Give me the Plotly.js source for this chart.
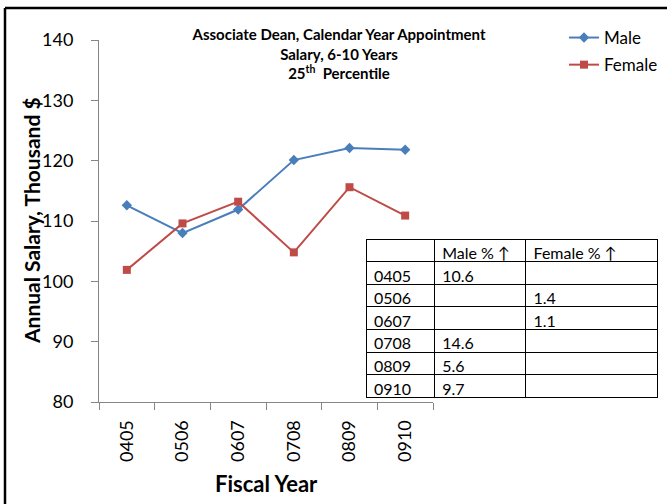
<!DOCTYPE html>
<html>
<head>
<meta charset="utf-8">
<script src="https://cdn.plot.ly/plotly-3.0.1.min.js"></script>
<style>html,body{margin:0;padding:0;background:#fff;}#chart{width:667px;height:504px;}</style>
</head>
<body>
<div id="chart"></div>
<script>
var years = ["0405", "0506", "0607", "0708", "0809", "0910"];
var male = [112.6, 108.0, 111.9, 120.1, 122.1, 121.8];
var female = [101.9, 109.6, 113.2, 104.8, 115.6, 110.9];
var tableHeader = ["", "Male\u00a0%\u00a0\u2191", "Female\u00a0%\u00a0\u2191"];
var maleIncrease = ["10.6", "", "", "14.6", "5.6", "9.7"];
var femaleIncrease = ["", "1.4", "1.1", "", "", ""];
var yTicks = [80, 90, 100, 110, 120, 130, 140];

var W = 667, H = 504;
function px(x) { return x / W; }
function py(y) { return 1 - y / H; }

var FONT = "Lato, 'Open Sans', sans-serif";
var AX = "#868686";

var traces = [
  {
    type: "scatter", mode: "lines+markers", name: "Male",
    x: years, y: male,
    line: {color: "#4A7EBB", width: 2},
    marker: {symbol: "diamond", size: 8, color: "#4A7EBB"},
    legendgroup: "m"
  },
  {
    type: "scatter", mode: "lines+markers", name: "Female",
    x: years, y: female,
    line: {color: "#BE4B48", width: 2},
    marker: {symbol: "square", size: 8, color: "#BE4B48"},
    legendgroup: "f"
  },
  {
    type: "table",
    domain: {x: [px(366), px(657)], y: [py(398), py(239)]},
    columnwidth: [68, 91, 131],
    header: {
      values: tableHeader,
      align: "left",
      height: 22.6,
      line: {color: "#000", width: 1},
      fill: {color: "#fff"},
      font: {family: FONT, size: 16, color: "#000"}
    },
    cells: {
      values: [years, maleIncrease, femaleIncrease],
      align: "left",
      height: 22.6,
      line: {color: "#000", width: 1},
      fill: {color: "#fff"},
      font: {family: FONT, size: 16, color: "#000"}
    }
  }
];

var layout = {
  width: W, height: H,
  margin: {l: 0, r: 0, t: 0, b: 0},
  paper_bgcolor: "#fff", plot_bgcolor: "rgba(0,0,0,0)",
  font: {family: FONT, color: "#000"},
  showlegend: true,
  title: {
    text: "<b>Associate Dean, Calendar Year Appointment<br>Salary, 6-10 Years<br>25<sup>th</sup>  Percentile</b>",
    x: px(339), xanchor: "center", xref: "paper",
    y: py(40), yanchor: "top", yref: "paper",
    font: {family: FONT, size: 15, color: "#000"}
  },
  xaxis: {
    domain: [px(99), px(433)],
    type: "category",
    range: [-0.5, 5.5],
    showgrid: false, zeroline: false,
    showline: true, linecolor: AX, linewidth: 1,
    ticks: "outside", ticklen: 7, tickcolor: AX,
    tickson: "boundaries",
    tickangle: -90,
    ticklabelstandoff: 10,
    tickfont: {family: FONT, size: 18, color: "#000"},
    automargin: false
  },
  yaxis: {
    domain: [py(402), py(40)],
    range: [80, 140],
    tickvals: yTicks,
    showgrid: false, zeroline: false,
    showline: true, linecolor: AX, linewidth: 1,
    ticks: "outside", ticklen: 7, tickcolor: AX,
    ticklabelstandoff: 14,
    tickfont: {family: FONT, size: 18, color: "#000"},
    automargin: false
  },
  legend: {
    x: px(564), xanchor: "left", y: py(20), yanchor: "top",
    font: {family: FONT, size: 17, color: "#000"},
    bgcolor: "rgba(0,0,0,0)",
    tracegroupgap: 2
  },
  annotations: [
    {
      text: "<b>Annual Salary, Thousand $</b>",
      xref: "paper", yref: "paper", x: px(31), y: py(221),
      xanchor: "center", yanchor: "middle", textangle: -90, showarrow: false,
      font: {family: FONT, size: 21, color: "#000"}
    },
    {
      text: "<b>Fiscal Year</b>",
      xref: "paper", yref: "paper", x: px(266), y: py(483),
      xanchor: "center", yanchor: "middle", showarrow: false,
      font: {family: FONT, size: 22, color: "#000"}
    }
  ],
  shapes: [
    {type: "line", xref: "paper", yref: "paper", x0: px(5), x1: px(667), y0: py(8), y1: py(8), line: {color: "#000", width: 2.5}},
    {type: "line", xref: "paper", yref: "paper", x0: px(5), x1: px(5), y0: py(8), y1: py(504), line: {color: "#000", width: 2.5}}
  ]
};

Plotly.newPlot("chart", traces, layout, {displayModeBar: false, staticPlot: true});
</script>
</body>
</html>
